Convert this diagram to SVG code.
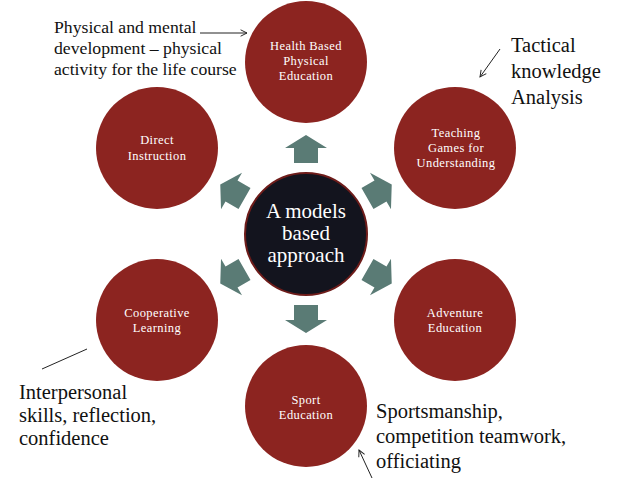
<svg xmlns="http://www.w3.org/2000/svg" width="638" height="479" viewBox="0 0 638 479">
<style>
.node{fill:#8c2420;}
.nt{fill:#ffffff;font-family:"Liberation Serif","Times New Roman",serif;font-size:12.5px;letter-spacing:0.4px;text-anchor:middle;}
.ct{fill:#ffffff;font-family:"Liberation Serif","Times New Roman",serif;font-size:21px;text-anchor:middle;}
.ann{fill:#111111;font-family:"Liberation Serif","Times New Roman",serif;font-size:20.5px;}
.ann2{fill:#111111;font-family:"Liberation Serif","Times New Roman",serif;font-size:17.7px;}
.arr{fill:#5a7b75;}
.ln{stroke:#222222;stroke-width:1;fill:none;}
</style>
<defs>
<marker id="ah" viewBox="0 0 10 10" refX="9" refY="5" markerWidth="8" markerHeight="8" orient="auto" markerUnits="userSpaceOnUse">
<path d="M1,1 L9,5 L1,9" fill="none" stroke="#222222" stroke-width="1.2"/>
</marker>
<polygon id="blk" points="-12,-71 12,-71 12,-86 21,-86 0,-99 -21,-86 -12,-86"/>
</defs>
<rect width="638" height="479" fill="#ffffff"/>
<g id="center">
<circle cx="306" cy="234" r="61" fill="#13141e" stroke="#6e1c1a" stroke-width="2"/>
<text class="ct" x="306" y="218">A models</text>
<text class="ct" x="306" y="240">based</text>
<text class="ct" x="306" y="262">approach</text>
</g>
<g id="health">
<circle class="node" cx="306" cy="62" r="61"/>
<text class="nt" x="306" y="50">Health Based</text>
<text class="nt" x="306" y="65">Physical</text>
<text class="nt" x="306" y="80">Education</text>
</g>
<g id="tgfu">
<circle class="node" cx="455" cy="148" r="61"/>
<text class="nt" x="456" y="137">Teaching</text>
<text class="nt" x="456" y="152">Games for</text>
<text class="nt" x="456" y="167">Understanding</text>
</g>
<g id="adventure">
<circle class="node" cx="455" cy="320" r="61"/>
<text class="nt" x="455" y="317">Adventure</text>
<text class="nt" x="455" y="332">Education</text>
</g>
<g id="sport">
<circle class="node" cx="306" cy="406" r="61"/>
<text class="nt" x="306" y="404">Sport</text>
<text class="nt" x="306" y="419">Education</text>
</g>
<g id="coop">
<circle class="node" cx="157" cy="320" r="61"/>
<text class="nt" x="157" y="317">Cooperative</text>
<text class="nt" x="157" y="332">Learning</text>
</g>
<g id="direct">
<circle class="node" cx="157" cy="148" r="61"/>
<text class="nt" x="157" y="144">Direct</text>
<text class="nt" x="157" y="160">Instruction</text>
</g>
<g id="connectors">
<g class="arr" transform="translate(306,234)">
<use href="#blk"/>
<use href="#blk" transform="rotate(60)"/>
<use href="#blk" transform="rotate(120)"/>
<use href="#blk" transform="rotate(180)"/>
<use href="#blk" transform="rotate(240)"/>
<use href="#blk" transform="rotate(300)"/>
</g>
<line class="ln" x1="200" y1="33" x2="247" y2="33" marker-end="url(#ah)"/>
<line class="ln" x1="500" y1="49" x2="480" y2="77" marker-end="url(#ah)"/>
<line class="ln" x1="42" y1="369" x2="87" y2="349"/>
<line class="ln" x1="372" y1="478" x2="359" y2="450" marker-end="url(#ah)"/>
</g>
<g id="annotations">
<text class="ann2" x="54" y="33">Physical and mental</text>
<text class="ann2" x="54" y="54">development – physical</text>
<text class="ann2" x="54" y="75">activity for the life course</text>
<text class="ann" x="511" y="52">Tactical</text>
<text class="ann" x="511" y="78">knowledge</text>
<text class="ann" x="511" y="104">Analysis</text>
<text class="ann" x="19" y="399">Interpersonal</text>
<text class="ann" x="19" y="422">skills, reflection,</text>
<text class="ann" x="19" y="445">confidence</text>
<text class="ann" x="376" y="418">Sportsmanship,</text>
<text class="ann" x="376" y="443">competition teamwork,</text>
<text class="ann" x="376" y="468">officiating</text>
</g>
</svg>
